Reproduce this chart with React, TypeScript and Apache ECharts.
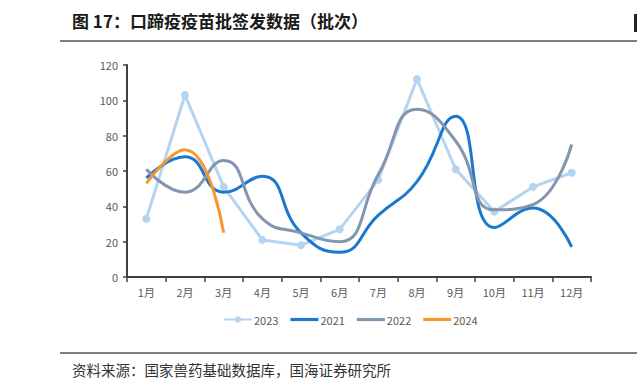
import React, { useEffect, useRef } from "react";
import * as echarts from "echarts";

const months = ["1月", "2月", "3月", "4月", "5月", "6月", "7月", "8月", "9月", "10月", "11月", "12月"];
const s2023 = [33, 103, 51, 21, 18, 27, 55, 112, 61, 37, 51, 59];
const s2021 = [56, 68, 48, 57, 25, 14, 35, 54, 91, 28, 39, 17];
const s2022 = [61, 48, 66, 33, 25, 20, 58, 95, 77, 38, 41, 75];
const s2024 = [53, 72, 25];
const yTicks = { min: 0, max: 120, interval: 20 };

const titleText = "图 17：口蹄疫疫苗批签发数据（批次）";
const sourceText = "资料来源：国家兽药基础数据库，国海证券研究所";

const barIcon = "path://M0,0L28,0L28,3.2L0,3.2Z";

export default function App() {
  const ref = useRef<HTMLDivElement>(null);
  useEffect(() => {
    document.body.style.margin = "0";
    const chart = echarts.init(ref.current!, null, { renderer: "svg" });
    const lineSeries = (name: string, data: number[], color: string, smooth: boolean, marker: boolean, z: number) => ({
      name,
      type: "line",
      data,
      smooth: smooth ? 0.5 : false,
      symbol: marker ? "circle" : "none",
      symbolSize: 8,
      showSymbol: marker,
      z,
      lineStyle: { color, width: 3 },
      itemStyle: { color },
    });
    chart.setOption({
      animation: false,
      textStyle: { fontFamily: "'Noto Sans CJK SC', 'Noto Sans', sans-serif" },
      title: {
        text: titleText,
        left: 72,
        top: 12,
        padding: 0,
        textStyle: { fontSize: 17, fontWeight: "bold", color: "#1a1a1a", fontFamily: "'Noto Sans CJK SC', sans-serif" },
      },
      grid: { left: 127, right: 46, top: 65, bottom: 111, containLabel: false },
      legend: {
        bottom: 58,
        left: 218,
        itemWidth: 28,
        itemHeight: 8,
        itemGap: 12,
        data: [
          { name: "2023" },
          { name: "2021", icon: barIcon },
          { name: "2022", icon: barIcon },
          { name: "2024", icon: barIcon },
        ],
        textStyle: { fontSize: 11, color: "#595959", padding: [0, 0, 0, -3] },
      },
      xAxis: {
        type: "category",
        data: months,
        boundaryGap: true,
        axisLine: { lineStyle: { color: "#404040", width: 2 } },
        axisTick: { show: true, alignWithLabel: false, inside: false, length: 5, lineStyle: { color: "#404040", width: 1.5 } },
        axisLabel: { color: "#595959", fontSize: 11, margin: 9 },
        splitLine: { show: false },
      },
      yAxis: {
        type: "value",
        min: yTicks.min,
        max: yTicks.max,
        interval: yTicks.interval,
        axisLine: { show: true, lineStyle: { color: "#404040", width: 2 } },
        axisTick: { show: true, length: 4, lineStyle: { color: "#404040", width: 1.5 } },
        axisLabel: { color: "#595959", fontSize: 11, margin: 9 },
        splitLine: { show: false },
      },
      series: [
        lineSeries("2023", s2023, "#B4D4F2", false, true, 1),
        lineSeries("2021", s2021, "#1A78D0", true, false, 2),
        lineSeries("2022", s2022, "#8496AE", true, false, 3),
        lineSeries("2024", s2024, "#F7962E", true, false, 4),
      ],
      graphic: [
        { type: "line", shape: { x1: 60, y1: 41, x2: 637, y2: 41 }, style: { stroke: "#7f7f7f", lineWidth: 2 } },
        { type: "line", shape: { x1: 60, y1: 353, x2: 637, y2: 353 }, style: { stroke: "#7f7f7f", lineWidth: 2 } },
        { type: "rect", shape: { x: 634, y: 14, width: 3, height: 18 }, style: { fill: "#222" } },
        {
          type: "text",
          x: 72,
          y: 369,
          style: {
            text: sourceText,
            fontSize: 14.5,
            fill: "#333",
            fontFamily: "'Noto Sans CJK SC', sans-serif",
            verticalAlign: "middle",
          },
        },
      ],
    });
    return () => chart.dispose();
  }, []);
  return <div ref={ref} style={{ width: 637, height: 388, position: "absolute", left: 0, top: 0 }} />;
}
